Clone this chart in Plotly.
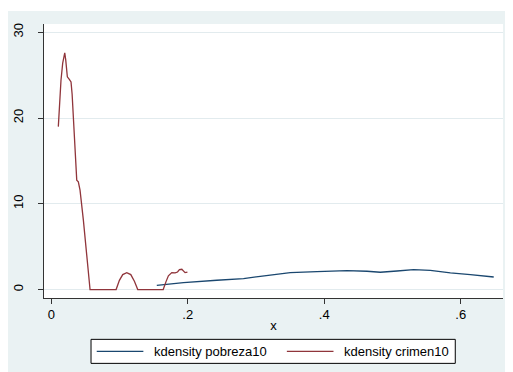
import plotly.graph_objects as go

# kdensity crimen10
crimen_x = [0.0103, 0.0117, 0.0142, 0.0167, 0.0197, 0.0211, 0.0235, 0.0264, 0.0289, 0.0305,
            0.0333, 0.0360, 0.0373, 0.0396, 0.0421, 0.0470, 0.0519, 0.0568,
            0.0950, 0.0998, 0.1047, 0.1106, 0.1165, 0.1218, 0.1267,
            0.1640, 0.1680, 0.1716, 0.1766, 0.1815, 0.1850, 0.1878, 0.1913, 0.1936, 0.1960, 0.1995]
crimen_y = [19.0, 21.3, 24.4, 26.4, 27.6, 26.8, 24.8, 24.5, 24.2, 22.8,
            18.6, 13.6, 12.75, 12.55, 11.6, 8.1, 4.2, 0.0,
            0.0, 1.08, 1.75, 1.98, 1.75, 0.97, 0.0,
            0.0, 0.9, 1.6, 1.98, 1.94, 2.05, 2.33, 2.37, 2.14, 1.98, 2.05]

# kdensity pobreza10
pobreza_x = [0.1546, 0.1937, 0.2426, 0.2817, 0.3062, 0.3306, 0.3502, 0.3893, 0.4333,
             0.4627, 0.4822, 0.5067, 0.5310, 0.5555, 0.5849, 0.6142, 0.6484]
pobreza_y = [0.50, 0.82, 1.09, 1.28, 1.55, 1.82, 1.98, 2.10, 2.22,
             2.14, 2.02, 2.17, 2.33, 2.25, 1.94, 1.75, 1.47]

series_names = ["kdensity pobreza10", "kdensity crimen10"]
x_ticks = [0, 0.2, 0.4, 0.6]
x_labels = ["0", ".2", ".4", ".6"]
y_ticks = [0, 10, 20, 30]
y_labels = ["0", "10", "20", "30"]
x_title = "x"

NAVY = "#1A476F"
MAROON = "#90353B"
BG = "#EAF2F3"
GRID = "#E2EBEE"
AXIS = "#333333"
FONT = "Liberation Sans, Arial, sans-serif"

# page body has an 8px margin, so figure coordinates = screen - 8
W, H = 505, 364
L, R, T, B = 36, 494.7, 16, 289.7
pw, ph = R - L, B - T


def px_x(p):
    return (p - L) / pw


def px_y(p):
    return (B - p) / ph


fig = go.Figure()
fig.add_trace(go.Scatter(x=pobreza_x, y=pobreza_y, mode="lines", name=series_names[0],
                         line=dict(color=NAVY, width=1.3), showlegend=False))
fig.add_trace(go.Scatter(x=crimen_x, y=crimen_y, mode="lines", name=series_names[1],
                         line=dict(color=MAROON, width=1.3), showlegend=False))

# legend (drawn manually to match the Stata layout)
lg_x0, lg_x1, lg_y0, lg_y1 = 83, 447, 331, 355
lg_mid = (lg_y0 + lg_y1) / 2
items = [(88.7, 135.3, 143.7, NAVY, series_names[0]),
         (278.7, 325.3, 333.7, MAROON, series_names[1])]

shapes = [
    dict(type="rect", xref="paper", yref="paper",
         x0=px_x(-20), x1=px_x(W + 20), y0=px_y(3), y1=px_y(-20),
         fillcolor="white", line=dict(width=0), layer="above"),
    dict(type="rect", xref="paper", yref="paper",
         x0=px_x(lg_x0), x1=px_x(lg_x1), y0=px_y(lg_y1), y1=px_y(lg_y0),
         fillcolor="white", line=dict(color="#000000", width=1), layer="above"),
]
annotations = []
for (a, b, tx, col, name) in items:
    shapes.append(dict(type="line", xref="paper", yref="paper",
                       x0=px_x(a), x1=px_x(b), y0=px_y(lg_mid), y1=px_y(lg_mid),
                       line=dict(color=col, width=1.3), layer="above"))
    annotations.append(dict(xref="paper", yref="paper", x=px_x(tx), y=px_y(lg_mid),
                            text=name, showarrow=False, xanchor="left", yanchor="middle",
                            font=dict(family=FONT, size=13, color="#000000")))

fig.update_layout(
    width=W, height=H,
    margin=dict(l=L, r=W - R, t=T, b=H - B, autoexpand=False),
    paper_bgcolor=BG,
    plot_bgcolor="white",
    font=dict(family=FONT, size=13, color="#000000"),
    showlegend=False,
    shapes=shapes,
    annotations=annotations,
    xaxis=dict(range=[-0.0107, 0.662], tickvals=x_ticks, ticktext=x_labels,
               showgrid=False, zeroline=False, showline=True, linecolor=AXIS, linewidth=1,
               ticks="outside", ticklen=5, tickcolor=AXIS, tickwidth=1,
               ticklabelstandoff=-1,
               title=dict(text=x_title, standoff=0, font=dict(size=13))),
    yaxis=dict(range=[-0.98, 30.96], tickvals=y_ticks, ticktext=y_labels,
               showgrid=True, gridcolor=GRID, gridwidth=1, zeroline=False,
               showline=True, linecolor=AXIS, linewidth=1,
               ticks="outside", ticklen=5, tickcolor=AXIS, tickwidth=1,
               tickangle=-90, ticklabelstandoff=10),
)

fig.write_html("out.html")
